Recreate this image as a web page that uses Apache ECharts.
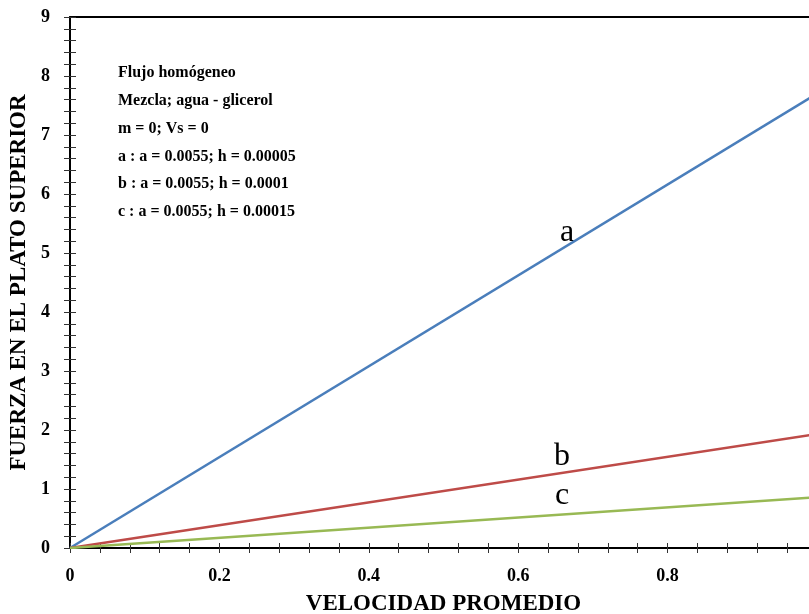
<!DOCTYPE html>
<html>
<head>
<meta charset="utf-8">
<script src="https://cdn.jsdelivr.net/npm/echarts@6/dist/echarts.min.js"></script>
<style>html,body{margin:0;padding:0;background:#fff;}#c{width:809px;height:614px;}</style>
</head>
<body>
<div id="c"></div>
<script>
// x values (VELOCIDAD PROMEDIO)
const xValues = [0, 1];
// series values (FUERZA EN EL PLATO SUPERIOR)
const seriesA = [0, 7.7];
const seriesB = [0, 1.93];
const seriesC = [0, 0.86];
const seriesNames = ['a', 'b', 'c'];
const xTicks = [0, 0.2, 0.4, 0.6, 0.8];
const yTicks = [0, 1, 2, 3, 4, 5, 6, 7, 8, 9];
const infoLines = [
  'Flujo homógeneo',
  'Mezcla; agua - glicerol',
  'm = 0; Vs = 0',
  'a : a = 0.0055; h = 0.00005',
  'b : a = 0.0055; h = 0.0001',
  'c : a = 0.0055; h = 0.00015'
];

const serif = '"Liberation Serif", "Times New Roman", serif';
const pairs = (ys) => xValues.map((x, i) => [x, ys[i]]);

const chart = echarts.init(document.getElementById('c'), null, {renderer: 'canvas'});

const baseX = {
  type: 'value', min: 0, max: 1, interval: 0.2, gridIndex: 0,
  splitLine: {show: false}
};
const baseY = {
  type: 'value', min: 0, max: 9, interval: 1, gridIndex: 0,
  splitLine: {show: false}
};

chart.setOption({
  animation: false,
  backgroundColor: '#fff',
  grid: {left: 70, right: -8, top: 17, bottom: 66, containLabel: false, outerBoundsMode: 'none'},
  xAxis: [
    Object.assign({}, baseX, {
      position: 'bottom',
      name: 'VELOCIDAD PROMEDIO', nameLocation: 'middle', nameGap: 45,
      nameTextStyle: {fontFamily: serif, fontWeight: 'bold', fontSize: 23, color: '#000'},
      axisLine: {show: true, lineStyle: {color: '#000', width: 2}},
      axisTick: {show: true, inside: false, length: 5, lineStyle: {color: '#333'}},
      minorTick: {show: true, splitNumber: 5, length: 5, lineStyle: {color: '#333'}},
      axisLabel: {show: true, margin: 19, showMaxLabel: false, fontFamily: serif, fontWeight: 'bold', fontSize: 18, color: '#000',
        formatter: (v) => xTicks.includes(Math.round(v * 10) / 10) ? String(Math.round(v * 10) / 10) : ''}
    }),
    Object.assign({}, baseX, {
      position: 'bottom',
      axisLine: {show: false},
      axisTick: {show: true, inside: true, length: 5, lineStyle: {color: '#333'}},
      minorTick: {show: true, splitNumber: 5, length: 5, lineStyle: {color: '#333'}},
      axisLabel: {show: false}
    }),
    Object.assign({}, baseX, {
      position: 'top',
      axisLine: {show: true, lineStyle: {color: '#000', width: 2}},
      axisTick: {show: false}, minorTick: {show: false}, axisLabel: {show: false}
    })
  ],
  yAxis: [
    Object.assign({}, baseY, {
      position: 'left',
      name: 'FUERZA EN EL PLATO SUPERIOR', nameLocation: 'middle', nameGap: 31, nameRotate: 90,
      nameTextStyle: {fontFamily: serif, fontWeight: 'bold', fontSize: 23, color: '#000'},
      axisLine: {show: true, lineStyle: {color: '#000', width: 2}},
      axisTick: {show: true, inside: false, length: 6, lineStyle: {color: '#333'}},
      minorTick: {show: true, splitNumber: 5, length: 6, lineStyle: {color: '#333'}},
      axisLabel: {show: true, margin: 20, fontFamily: serif, fontWeight: 'bold', fontSize: 18, color: '#000',
        formatter: (v) => yTicks.includes(v) ? String(v) : ''}
    }),
    Object.assign({}, baseY, {
      position: 'left',
      axisLine: {show: false},
      axisTick: {show: true, inside: true, length: 6, lineStyle: {color: '#333'}},
      minorTick: {show: true, splitNumber: 5, length: 6, lineStyle: {color: '#333'}},
      axisLabel: {show: false}
    })
  ],
  series: [
    {name: seriesNames[0], type: 'line', data: pairs(seriesA), symbol: 'none', lineStyle: {color: '#4a7ebb', width: 2.5}, z: 3},
    {name: seriesNames[1], type: 'line', data: pairs(seriesB), symbol: 'none', lineStyle: {color: '#be4b48', width: 2.5}, z: 3},
    {name: seriesNames[2], type: 'line', data: pairs(seriesC), symbol: 'none', lineStyle: {color: '#98b954', width: 2.5}, z: 3}
  ],
  graphic: [
    {type: 'group', left: 118, top: 65, children: infoLines.map((t, i) => ({
      type: 'text', x: 0, y: i * 27.8,
      style: {text: t, font: 'bold 16px ' + serif, fill: '#000', textVerticalAlign: 'top'}
    }))},
    {type: 'text', x: 567, y: 233, style: {text: seriesNames[0], font: '32px ' + serif, fill: '#000', textAlign: 'center', textVerticalAlign: 'middle'}},
    {type: 'text', x: 562, y: 457, style: {text: seriesNames[1], font: '32px ' + serif, fill: '#000', textAlign: 'center', textVerticalAlign: 'middle'}},
    {type: 'text', x: 562, y: 496, style: {text: seriesNames[2], font: '32px ' + serif, fill: '#000', textAlign: 'center', textVerticalAlign: 'middle'}}
  ]
});
</script>
</body>
</html>
